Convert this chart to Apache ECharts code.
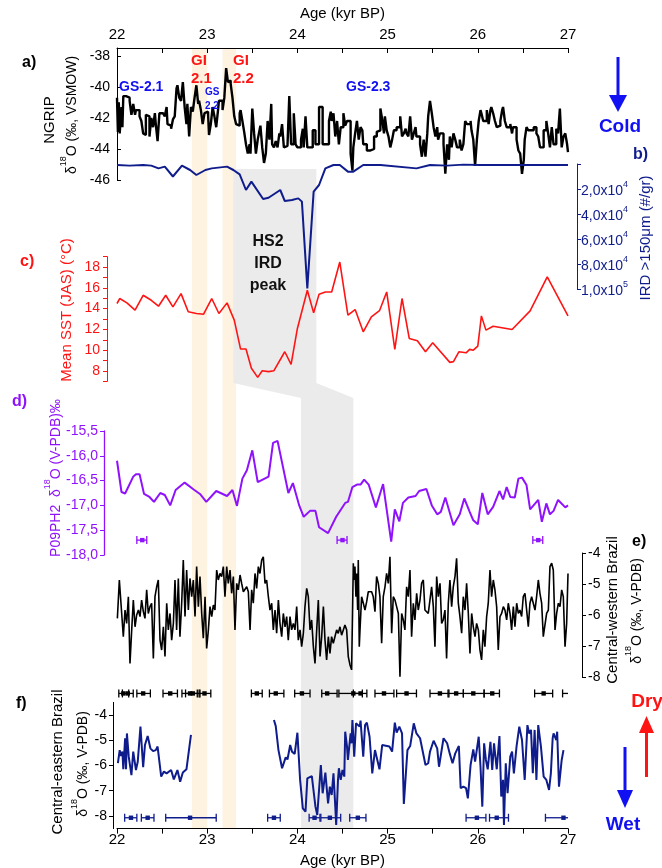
<!DOCTYPE html>
<html><head><meta charset="utf-8">
<script src="https://cdn.jsdelivr.net/npm/echarts@6/dist/echarts.min.js"></script>
<style>html,body{margin:0;padding:0;background:#fff}#c{width:662px;height:868px}</style>
</head><body><div id="c"></div>
<script>
// ---------------- DATA ----------------
const ageTicks = [22, 23, 24, 25, 26, 27];

const ngripAge = [22.00,22.01,22.02,22.03,22.05,22.06,22.07,22.10,22.14,22.16,22.18,22.20,22.21,22.25,22.27,22.29,22.31,22.32,22.34,22.36,22.38,22.40,22.42,22.43,22.45,22.47,22.51,22.53,22.55,22.56,22.58,22.60,22.62,22.64,22.66,22.67,22.69,22.71,22.73,22.75,22.77,22.78,22.80,22.82,22.84,22.86,22.88,22.90,22.91,22.93,22.95,22.97,22.99,23.01,23.02,23.04,23.06,23.08,23.10,23.12,23.13,23.15,23.17,23.19,23.21,23.23,23.24,23.26,23.28,23.30,23.32,23.34,23.36,23.37,23.39,23.41,23.43,23.45,23.47,23.48,23.50,23.52,23.54,23.56,23.58,23.59,23.61,23.63,23.65,23.67,23.69,23.71,23.72,23.74,23.76,23.78,23.80,23.81,23.83,23.85,23.87,23.89,23.91,23.93,23.94,23.96,23.98,24.00,24.02,24.04,24.06,24.07,24.09,24.11,24.13,24.17,24.20,24.24,24.28,24.31,24.35,24.37,24.38,24.40,24.42,24.44,24.46,24.48,24.51,24.53,24.55,24.57,24.59,24.61,24.62,24.64,24.66,24.68,24.70,24.72,24.73,24.77,24.81,24.85,24.88,24.90,24.92,24.94,24.96,24.97,24.99,25.01,25.03,25.05,25.07,25.10,25.14,25.16,25.18,25.20,25.21,25.23,25.25,25.27,25.29,25.31,25.32,25.36,25.38,25.40,25.42,25.44,25.45,25.47,25.49,25.51,25.53,25.55,25.56,25.58,25.62,25.64,25.66,25.68,25.69,25.71,25.73,25.75,25.77,25.80,25.82,25.84,25.86,25.88,25.92,25.93,25.95,25.97,25.99,26.01,26.03,26.04,26.06,26.08,26.10,26.12,26.14,26.15,26.17,26.19,26.21,26.23,26.25,26.27,26.28,26.30,26.32,26.36,26.38,26.39,26.43,26.45,26.47,26.49,26.51,26.52,26.54,26.56,26.58,26.62,26.65,26.67,26.69,26.73,26.76,26.78,26.80,26.82,26.84,26.87,26.89,26.91,26.93,26.95,26.97,26.99,27.00];
const ngripVal = [-40.7,-42.9,-41.0,-43.0,-41.3,-42.6,-40.6,-40.7,-40.9,-41.8,-41.1,-41.8,-41.5,-41.9,-42.2,-43.0,-43.1,-41.8,-41.9,-43.2,-42.0,-42.6,-41.7,-42.4,-43.5,-41.7,-41.6,-41.9,-41.3,-42.4,-42.5,-42.7,-42.1,-41.9,-40.1,-39.9,-40.7,-40.9,-39.7,-41.3,-42.4,-41.1,-43.2,-41.3,-41.6,-40.7,-39.9,-41.1,-40.9,-41.5,-42.4,-41.7,-41.6,-41.8,-43.1,-42.4,-41.3,-41.9,-42.6,-41.5,-40.9,-40.9,-41.5,-40.7,-38.8,-39.7,-39.6,-39.8,-40.7,-41.9,-42.4,-42.5,-41.7,-41.5,-42.2,-42.9,-43.7,-44.3,-43.7,-44.3,-41.4,-43.0,-44.3,-43.4,-42.8,-42.5,-43.9,-44.9,-44.3,-42.2,-43.4,-41.1,-43.7,-43.9,-43.5,-43.9,-43.0,-43.2,-42.4,-43.9,-43.8,-43.7,-40.6,-43.7,-43.7,-41.7,-43.7,-43.9,-43.9,-43.4,-42.7,-43.9,-41.9,-43.9,-43.9,-42.8,-43.7,-41.3,-43.7,-43.7,-42.2,-41.6,-42.2,-41.7,-43.2,-42.2,-43.7,-42.6,-41.7,-42.5,-42.2,-42.2,-44.3,-45.4,-43.9,-43.0,-42.2,-43.4,-42.6,-42.8,-43.7,-44.1,-44.0,-43.2,-42.9,-42.8,-41.4,-42.1,-43.0,-41.9,-42.8,-43.2,-43.9,-43.4,-42.8,-42.6,-41.9,-43.2,-43.0,-42.7,-43.0,-43.2,-41.9,-43.4,-43.0,-42.6,-43.2,-43.7,-44.5,-43.4,-44.5,-43.0,-41.9,-40.9,-41.7,-42.6,-43.2,-42.6,-43.4,-43.0,-43.7,-45.6,-43.7,-44.7,-43.2,-43.9,-43.0,-43.4,-43.9,-43.4,-44.1,-43.7,-42.2,-42.4,-42.2,-42.8,-43.4,-45.1,-43.4,-42.2,-41.5,-41.7,-42.2,-42.2,-41.5,-42.4,-41.5,-41.3,-41.7,-42.2,-42.6,-42.5,-42.2,-41.5,-41.3,-42.2,-42.6,-42.4,-43.0,-42.6,-43.4,-44.1,-44.3,-45.6,-44.7,-43.4,-42.6,-42.8,-42.8,-42.6,-43.0,-43.2,-43.9,-42.8,-42.2,-43.0,-43.9,-42.6,-43.7,-42.7,-43.0,-41.4,-43.9,-43.2,-43.0,-43.7,-44.2];

const irdAge = [22.00,22.14,22.29,22.38,22.46,22.53,22.62,22.72,22.81,22.88,22.98,23.05,23.22,23.29,23.36,23.43,23.49,23.62,23.68,23.81,23.86,23.94,24.01,24.05,24.11,24.18,24.24,24.31,24.40,24.47,24.56,24.62,24.73,24.92,25.32,25.47,25.66,25.84,26.02,27.00];
const irdVal = [800,1300,800,1300,3500,2100,10000,1300,4800,8800,4800,3500,2100,4800,8300,20800,14100,28000,27000,20800,29600,28800,27500,30100,99500,22100,16800,3500,800,800,6100,6100,800,800,3500,800,1300,500,800,800];

const sstAge = [22.00,22.03,22.11,22.20,22.29,22.38,22.46,22.54,22.62,22.71,22.79,22.88,22.96,23.05,23.13,23.22,23.30,23.37,23.43,23.49,23.56,23.61,23.68,23.74,23.86,23.93,24.00,24.11,24.18,24.24,24.31,24.38,24.47,24.56,24.64,24.73,24.82,24.91,24.99,25.08,25.16,25.24,25.33,25.42,25.50,25.69,25.73,25.79,25.87,25.91,25.95,26.00,26.04,26.09,26.17,26.38,26.58,26.77,27.00];
const sstVal = [14.49,14.97,14.55,13.85,15.28,14.8,14.23,15.28,14.17,15.44,13.69,13.53,13.46,14.97,13.53,14.55,12.89,10.11,10.11,8.26,7.39,8.03,7.94,8.03,9.85,8.64,12.09,15.76,13.59,15.38,15.6,15.6,18.48,13.37,13.91,11.77,13.21,13.8,15.6,10.08,14.97,11.13,10.91,9.85,10.72,8.83,8.9,9.85,9.75,10.08,10.0,10.4,13.3,11.93,12.31,11.99,13.78,17.04,13.3];

const p09Age = [22.00,22.05,22.09,22.18,22.21,22.25,22.30,22.36,22.41,22.48,22.53,22.59,22.65,22.75,22.85,22.92,22.99,23.10,23.22,23.28,23.33,23.39,23.44,23.50,23.56,23.68,23.73,23.78,23.90,23.95,24.02,24.07,24.14,24.20,24.24,24.34,24.43,24.53,24.56,24.61,24.66,24.70,24.74,24.79,24.87,24.95,25.04,25.08,25.13,25.17,25.23,25.31,25.35,25.43,25.49,25.55,25.59,25.64,25.73,25.80,25.85,25.91,25.95,26.00,26.05,26.11,26.17,26.24,26.28,26.32,26.36,26.41,26.45,26.49,26.54,26.58,26.67,26.71,26.76,26.80,26.84,26.89,26.97,27.00];
const p09Val = [-16.10,-16.73,-16.76,-16.42,-16.37,-16.37,-16.77,-16.83,-16.93,-16.75,-16.79,-17.00,-16.69,-16.54,-16.68,-16.77,-16.93,-16.71,-16.81,-16.69,-17.01,-16.46,-16.29,-15.89,-16.53,-16.42,-15.74,-15.70,-16.75,-16.55,-17.00,-17.23,-17.11,-17.11,-17.44,-17.56,-17.23,-16.95,-16.93,-16.63,-16.58,-16.58,-16.48,-16.58,-17.04,-16.57,-17.73,-17.08,-17.32,-16.95,-16.84,-16.81,-16.71,-16.67,-17.00,-17.18,-17.13,-16.84,-17.40,-17.18,-16.86,-17.13,-17.30,-17.38,-16.75,-17.18,-17.03,-16.71,-16.88,-16.63,-16.83,-16.84,-16.46,-16.44,-16.59,-17.08,-16.89,-17.33,-16.96,-17.18,-17.11,-16.89,-17.04,-17.00];
const p09ErrC = [22.28, 24.50, 26.67];
const p09ErrLo = [22.22, 24.44, 26.61];
const p09ErrHi = [22.33, 24.55, 26.72];

const cwAge = [22.004,22.026,22.052,22.070,22.089,22.107,22.126,22.144,22.163,22.181,22.200,22.218,22.237,22.255,22.273,22.292,22.310,22.329,22.347,22.366,22.384,22.403,22.421,22.440,22.458,22.477,22.495,22.514,22.532,22.551,22.569,22.588,22.606,22.625,22.643,22.661,22.680,22.698,22.717,22.735,22.754,22.772,22.791,22.809,22.828,22.846,22.865,22.883,22.902,22.920,22.939,22.957,22.976,22.994,23.013,23.031,23.050,23.068,23.086,23.105,23.123,23.142,23.160,23.179,23.197,23.216,23.234,23.253,23.271,23.290,23.308,23.327,23.345,23.364,23.382,23.401,23.419,23.438,23.456,23.475,23.493,23.511,23.530,23.548,23.567,23.585,23.604,23.622,23.641,23.659,23.678,23.696,23.715,23.733,23.752,23.770,23.789,23.807,23.826,23.844,23.863,23.881,23.899,23.918,23.936,23.955,23.973,23.992,24.010,24.029,24.047,24.066,24.084,24.103,24.121,24.140,24.158,24.177,24.195,24.214,24.232,24.251,24.269,24.288,24.306,24.324,24.343,24.361,24.379,24.398,24.416,24.435,24.453,24.472,24.490,24.509,24.527,24.546,24.564,24.583,24.601,24.612,24.620,24.627,24.638,24.649,24.657,24.668,24.675,24.686,24.694,24.712,24.731,24.749,24.768,24.786,24.804,24.823,24.841,24.860,24.878,24.897,24.915,24.934,24.952,24.971,24.989,25.008,25.026,25.045,25.063,25.082,25.100,25.119,25.137,25.156,25.174,25.192,25.211,25.229,25.248,25.266,25.285,25.303,25.322,25.340,25.359,25.377,25.396,25.414,25.433,25.451,25.488,25.507,25.525,25.544,25.562,25.581,25.599,25.617,25.636,25.654,25.673,25.691,25.710,25.728,25.747,25.765,25.784,25.802,25.821,25.839,25.858,25.876,25.895,25.913,25.932,25.950,25.969,25.987,26.006,26.024,26.042,26.061,26.079,26.098,26.116,26.135,26.153,26.172,26.190,26.209,26.227,26.246,26.264,26.283,26.301,26.320,26.338,26.357,26.375,26.394,26.412,26.431,26.449,26.467,26.486,26.504,26.523,26.541,26.560,26.578,26.597,26.615,26.634,26.652,26.671,26.689,26.708,26.726,26.763,26.782,26.800,26.819,26.837,26.856,26.874,26.893,26.911,26.930,26.948,26.967,26.985,27.000];
const cwVal = [-6.11,-4.87,-5.95,-6.70,-5.84,-6.27,-5.41,-7.56,-6.48,-5.52,-6.38,-6.00,-5.84,-6.05,-5.52,-5.89,-6.11,-5.19,-5.95,-5.73,-5.62,-7.40,-5.41,-5.09,-4.87,-6.81,-7.13,-6.38,-7.34,-5.62,-6.48,-5.95,-6.81,-6.27,-4.87,-6.48,-4.82,-6.70,-5.62,-4.23,-6.05,-4.55,-5.84,-4.82,-5.41,-4.87,-6.05,-4.44,-5.73,-4.76,-5.95,-6.75,-5.41,-7.08,-6.48,-5.73,-6.05,-5.68,-5.84,-4.55,-4.87,-4.66,-4.76,-4.44,-5.41,-4.44,-4.98,-4.55,-5.30,-4.76,-6.48,-4.98,-5.19,-4.71,-4.98,-5.25,-5.30,-5.09,-5.25,-6.48,-5.19,-5.62,-4.66,-5.14,-4.44,-4.66,-4.23,-4.12,-4.98,-4.87,-5.41,-5.84,-5.62,-6.48,-5.84,-6.59,-5.52,-6.27,-6.70,-5.95,-6.38,-6.05,-6.81,-6.05,-6.48,-6.27,-6.48,-5.73,-6.81,-6.48,-7.02,-6.59,-5.73,-5.14,-5.41,-6.48,-6.16,-7.02,-7.56,-6.48,-5.52,-7.34,-6.70,-5.73,-6.81,-7.45,-6.70,-7.24,-6.70,-6.91,-6.70,-6.48,-6.59,-6.38,-6.65,-6.48,-6.32,-6.48,-7.34,-7.61,-7.77,-7.83,-4.33,-4.87,-4.44,-5.41,-4.66,-5.84,-4.23,-7.02,-6.48,-5.41,-5.62,-5.84,-5.57,-5.25,-5.30,-5.25,-5.41,-5.89,-4.76,-4.98,-5.41,-6.91,-5.41,-5.09,-4.66,-4.98,-4.12,-6.59,-5.41,-5.52,-5.73,-5.95,-7.99,-5.95,-6.16,-6.48,-5.09,-5.41,-4.55,-6.70,-5.62,-6.16,-5.30,-5.84,-5.52,-4.98,-4.87,-5.84,-5.84,-5.95,-5.09,-5.73,-7.02,-4.76,-5.41,-4.98,-6.27,-6.16,-5.84,-7.40,-5.62,-4.87,-5.73,-5.09,-4.76,-4.17,-5.62,-6.05,-6.59,-5.41,-5.84,-4.98,-5.95,-7.24,-5.95,-6.38,-6.70,-6.27,-6.48,-7.13,-7.45,-6.48,-7.02,-6.05,-5.62,-4.55,-5.41,-4.87,-5.19,-5.73,-7.13,-6.05,-5.95,-5.73,-5.84,-6.16,-5.62,-5.95,-6.48,-5.73,-6.38,-5.62,-5.95,-5.84,-6.05,-5.41,-5.30,-5.25,-6.38,-5.62,-5.41,-5.62,-5.84,-5.41,-4.87,-5.30,-5.62,-6.70,-5.95,-5.84,-4.44,-4.33,-4.55,-6.48,-5.95,-5.62,-5.73,-5.19,-5.41,-7.02,-6.27,-4.66];
const cwErrC = [22.07,22.12,22.29,22.59,22.81,22.84,22.97,23.55,23.76,24.05,24.33,24.62,24.70,24.96,25.21,25.58,25.76,25.95,26.16,26.73,27.05];
const cwErrLo = [22.02,22.06,22.22,22.51,22.72,22.76,22.91,23.49,23.69,23.97,24.27,24.46,24.62,24.86,25.10,25.47,25.67,25.84,26.07,26.63,26.94];
const cwErrHi = [22.13,22.18,22.37,22.67,22.89,22.92,23.04,23.61,23.85,24.14,24.44,24.72,24.77,25.07,25.32,25.68,25.84,26.07,26.24,26.83,27.15];

const ceAge = [22.01,22.03,22.04,22.06,22.07,22.09,22.10,22.11,22.13,22.16,22.18,22.21,22.23,22.26,22.29,22.31,22.34,22.37,22.40,22.43,22.45,22.49,22.52,22.55,22.57,22.60,22.63,22.67,22.70,22.73,22.77,22.79,22.82,23.30,23.74,23.76,23.79,23.83,23.87,23.89,23.92,23.94,23.97,24.00,24.03,24.06,24.09,24.11,24.16,24.18,24.20,24.22,24.24,24.26,24.28,24.31,24.34,24.36,24.38,24.40,24.42,24.43,24.45,24.46,24.48,24.50,24.52,24.53,24.55,24.56,24.59,24.60,24.61,24.63,24.65,24.67,24.69,24.70,24.73,24.75,24.77,24.80,24.83,24.86,24.91,24.94,25.02,25.05,25.08,25.10,25.13,25.16,25.18,25.22,25.25,25.29,25.32,25.34,25.36,25.42,25.45,25.47,25.51,25.55,25.57,25.62,25.66,25.69,25.72,25.75,25.79,25.81,25.84,25.87,25.89,25.92,25.95,25.97,26.01,26.03,26.05,26.07,26.09,26.11,26.14,26.16,26.18,26.21,26.24,26.26,26.28,26.29,26.31,26.33,26.36,26.38,26.40,26.43,26.46,26.49,26.52,26.55,26.57,26.59,26.61,26.63,26.65,26.67,26.70,26.73,26.76,26.79,26.81,26.83,26.84,26.87,26.88,26.90,26.93,26.95];
const ceVal = [-5.91,-5.39,-5.62,-5.45,-6.15,-4.92,-6.15,-4.73,-5.65,-6.38,-5.45,-6.18,-5.85,-4.46,-6.07,-5.19,-4.83,-5.32,-5.43,-5.39,-5.25,-6.44,-6.24,-6.31,-6.28,-6.18,-6.55,-6.18,-6.64,-6.28,-6.15,-6.11,-4.79,null,-4.20,-4.44,-5.39,-6.11,-5.68,-5.76,-5.19,-5.45,-5.54,-4.70,-6.57,-7.70,-7.83,-6.51,-6.42,-6.42,-7.63,-7.96,-6.97,-5.98,-7.10,-6.28,-7.50,-6.84,-7.17,-6.31,-7.63,-8.36,-6.57,-6.11,-6.57,-6.18,-6.44,-4.66,-5.25,-5.78,-4.73,-5.12,-4.20,-5.65,-4.33,-4.26,-4.46,-4.22,-5.65,-4.40,-4.30,-4.86,-6.31,-5.39,-6.15,-5.19,-5.25,-5.45,-4.30,-4.70,-4.46,-4.73,-7.52,-5.39,-5.23,-4.33,-4.73,-4.66,-4.92,-5.98,-5.91,-5.45,-5.02,-5.32,-6.05,-4.92,-5.12,-5.54,-5.91,-5.52,-5.23,-6.90,-6.84,-6.90,-7.30,-5.98,-5.36,-5.85,-4.86,-6.05,-7.63,-5.12,-5.78,-6.15,-5.06,-6.18,-5.12,-6.15,-4.83,-7.23,-6.57,-8.36,-5.91,-7.10,-5.65,-5.45,-6.31,-5.23,-4.46,-4.99,-6.57,-4.40,-4.73,-4.59,-6.31,-4.59,-6.57,-4.40,-5.25,-6.44,-6.57,-6.97,-6.31,-4.92,-4.73,-4.99,-4.66,-6.84,-5.78,-5.39];
const ceErrC = [22.155,22.34,22.81,23.74,24.19,24.36,24.67,25.99,26.21,26.95];
const ceErrLo = [22.085,22.27,22.54,23.67,24.13,24.26,24.58,25.87,26.13,26.75];
const ceErrHi = [22.22,22.41,23.10,23.81,24.25,24.48,24.76,26.09,26.34,27.00];

const giBandLo = [22.83, 23.17];
const giBandHi = [23.00, 23.32];
const hs2UpperAges = [23.29, 24.21];
const hs2LowerAges = [24.04, 24.62];

// ---------------- STYLE / LAYOUT ----------------
const FONT = '"Liberation Sans", Arial, Helvetica, sans-serif';
const NAVY = '#0f1c8c', RED = '#ff1414', PURPLE = '#9012fc', BLUE = '#1010f2', CREAM = '#fdf3e0', GREY = '#ebebeb';
const L = 117, W = 451;
const PAGE_TOP = 48, PAGE_BOT = 828, HS2_TOP = 169, HS2_MID1 = 383, HS2_MID2 = 398;

const pairs = (xs, ys) => xs.map((x, i) => [x, ys[i] === null ? '-' : ys[i]]);

function hiddenX(gi) { return {type:'value', gridIndex:gi, min:22, max:27, interval:1, show:false}; }

function errSeries(xi, yi, c, lo, hi, yv, color) {
  return {
    type:'custom', xAxisIndex:xi, yAxisIndex:yi, clip:false, z:6, silent:true,
    data: c.map((v, i) => [v, lo[i], hi[i], yv]),
    renderItem(params, api) {
      const cc = api.value(0), l = api.value(1), h = api.value(2), y = api.value(3);
      const a = api.coord([Math.max(l, 22), y]), b = api.coord([Math.min(h, 27), y]), m = api.coord([cc, y]);
      const st = {stroke: color, lineWidth: 1.3};
      const ch = [{type:'line', shape:{x1:a[0], y1:a[1], x2:b[0], y2:b[1]}, style: st}];
      if (l >= 22) ch.push({type:'line', shape:{x1:a[0], y1:a[1]-4, x2:a[0], y2:a[1]+4}, style: st});
      if (h < 26.99) ch.push({type:'line', shape:{x1:b[0], y1:b[1]-4, x2:b[0], y2:b[1]+4}, style: st});
      if (cc >= 22 && cc <= 27) ch.push({type:'rect', shape:{x:m[0]-2.2, y:m[1]-2.2, width:4.4, height:4.4}, style:{fill: color}});
      return {type:'group', children: ch};
    }
  };
}

function T(x, y, text, size, color, weight, rot, align, rich) {
  const st = {text, fontSize:size, fontFamily:FONT, fontWeight:weight || 'normal', fill:color, align:align || 'center', verticalAlign:'middle'};
  if (rich) st.rich = rich;
  return {type:'text', x, y, rotation: rot || 0, z:100, silent:true, style: st};
}
function dRich(size, color) {
  return {a:{fontSize:size, fontFamily:FONT, fill:color, color:color, lineHeight:size+6, verticalAlign:'bottom'},
          s:{fontSize:Math.round(size*0.62), fontFamily:FONT, fill:color, color:color, lineHeight:size+6, verticalAlign:'top'}};
}
const R90 = Math.PI / 2;

const yLabel = (color, extra) => Object.assign({fontSize:14, color, fontFamily:FONT}, extra || {});
const comma = v => v.toFixed(1).replace('.', ',');

const option = {
  animation: false,
  backgroundColor: '#fff',
  grid: [
    {left:L, width:W, top:48, height:132},
    {left:L, width:W, top:164, height:125},
    {left:L, width:W, top:256.6, height:124.8},
    {left:L, width:W, top:431, height:124},
    {left:L, width:W, top:553, height:124},
    {left:L, width:W, top:702.4, height:126.2},
    {left:L, width:W, top:PAGE_TOP, height:PAGE_BOT - PAGE_TOP}
  ].map(g => Object.assign(g, {containLabel:false, outerBoundsMode:'none'})),
  xAxis: [
    {type:'value', gridIndex:0, position:'top', min:22, max:27, interval:0.5,
     name:'Age (kyr BP)', nameLocation:'middle', nameGap:27,
     nameTextStyle:{fontSize:15, color:'#000', fontFamily:FONT},
     axisLine:{show:true, lineStyle:{color:'#000', width:1}},
     axisTick:{show:true, inside:true, length:5, lineStyle:{color:'#000'}},
     axisLabel:{fontSize:15, color:'#000', fontFamily:FONT, margin:6, formatter: v => ageTicks.includes(v) ? String(v) : ''},
     splitLine:{show:false}},
    hiddenX(1), hiddenX(2), hiddenX(3), hiddenX(4),
    {type:'value', gridIndex:5, position:'bottom', min:22, max:27, interval:0.5,
     name:'Age (kyr BP)', nameLocation:'middle', nameGap:25,
     nameTextStyle:{fontSize:15, color:'#000', fontFamily:FONT},
     axisLine:{show:true, lineStyle:{color:'#000', width:1.2}},
     axisTick:{show:true, inside:false, length:5, lineStyle:{color:'#000'}},
     axisLabel:{fontSize:15, color:'#000', fontFamily:FONT, margin:4, formatter: v => ageTicks.includes(v) ? String(v) : ''},
     splitLine:{show:false}},
    hiddenX(6)
  ],
  yAxis: [
    {type:'value', gridIndex:0, min:-46, max:-37.5, interval:2, position:'left',
     axisLine:{show:true, lineStyle:{color:'#000'}}, axisTick:{show:true, inside:true, length:4, lineStyle:{color:'#000'}},
     axisLabel: yLabel('#000', {margin:7, showMaxLabel:false}), splitLine:{show:false}},
    {type:'value', gridIndex:1, min:0, max:100000, interval:20000, inverse:true, position:'right', offset:9,
     axisLine:{show:true, lineStyle:{color:NAVY}}, axisTick:{show:true, inside:false, length:4, lineStyle:{color:NAVY}},
     axisLabel:{margin:4, color:NAVY, fontFamily:FONT, fontSize:14,
       formatter: v => v === 0 ? '' : (v >= 100000 ? '{n|1,0x10}{s|5}' : '{n|' + comma(v / 10000) + 'x10}{s|4}'),
       rich:{n:{fontSize:14, color:NAVY, fontFamily:FONT, lineHeight:18, verticalAlign:'bottom'},
             s:{fontSize:9, color:NAVY, fontFamily:FONT, lineHeight:18, verticalAlign:'top'}}},
     splitLine:{show:false}},
    {type:'value', gridIndex:2, min:7, max:19, interval:1, position:'left', offset:10,
     axisLine:{show:true, lineStyle:{color:RED}}, axisTick:{show:true, inside:false, length:4, lineStyle:{color:RED}},
     axisLabel: yLabel(RED, {margin:7, formatter: v => (v % 2 === 0 ? String(v) : '')}), splitLine:{show:false}},
    {type:'value', gridIndex:3, min:-18, max:-15.5, interval:0.5, position:'left', offset:13,
     axisLine:{show:true, lineStyle:{color:PURPLE, width:1.3}}, axisTick:{show:true, inside:false, length:4, lineStyle:{color:PURPLE}},
     axisLabel: yLabel(PURPLE, {margin:6, formatter: comma}), splitLine:{show:false}},
    {type:'value', gridIndex:4, min:-8, max:-4, interval:1, position:'right', offset:14,
     axisLine:{show:true, lineStyle:{color:'#000'}}, axisTick:{show:true, inside:false, length:4, lineStyle:{color:'#000'}},
     axisLabel: yLabel('#000', {margin:6}), splitLine:{show:false}},
    {type:'value', gridIndex:5, min:-8.5, max:-3.5, splitNumber:5, position:'left', offset:4,
     axisLine:{show:true, lineStyle:{color:'#000'}}, axisTick:{show:true, inside:false, length:4, lineStyle:{color:'#000'}},
     axisLabel: yLabel('#000', {margin:6, showMinLabel:false, showMaxLabel:false}), splitLine:{show:false}},
    {type:'value', gridIndex:6, min:PAGE_TOP, max:PAGE_BOT, inverse:true, show:false}
  ],
  series: [
    {type:'custom', xAxisIndex:6, yAxisIndex:6, z:0, silent:true, clip:false,
     data: giBandLo.map((v, i) => [v, giBandHi[i]]),
     renderItem(params, api) {
       const a = api.coord([api.value(0), PAGE_TOP]), b = api.coord([api.value(1), PAGE_BOT]);
       return {type:'rect', shape:{x:a[0], y:a[1], width:b[0]-a[0], height:b[1]-a[1]}, style:{fill:CREAM}};
     }},
    {type:'custom', xAxisIndex:6, yAxisIndex:6, z:0, silent:true, clip:false,
     data: [[hs2UpperAges[0], hs2UpperAges[1], hs2LowerAges[0], hs2LowerAges[1]]],
     renderItem(params, api) {
       const u0 = api.value(0), u1 = api.value(1), l0 = api.value(2), l1 = api.value(3);
       const pts = [[u0, HS2_TOP], [u1, HS2_TOP], [u1, HS2_MID1], [l1, HS2_MID2], [l1, PAGE_BOT], [l0, PAGE_BOT], [l0, HS2_MID2], [u0, HS2_MID1]].map(p => api.coord(p));
       return {type:'polygon', shape:{points:pts}, style:{fill:GREY}};
     }},
    {type:'line', xAxisIndex:0, yAxisIndex:0, data:pairs(ngripAge, ngripVal), step:'end', symbol:'none', z:3,
     lineStyle:{color:'#000', width:2.4}},
    {type:'line', xAxisIndex:1, yAxisIndex:1, data:pairs(irdAge, irdVal), symbol:'none', z:4,
     lineStyle:{color:NAVY, width:2}},
    {type:'line', xAxisIndex:2, yAxisIndex:2, data:pairs(sstAge, sstVal), symbol:'none', z:3,
     lineStyle:{color:RED, width:1.6}},
    {type:'line', xAxisIndex:3, yAxisIndex:3, data:pairs(p09Age, p09Val), symbol:'none', z:3,
     lineStyle:{color:PURPLE, width:2}},
    {type:'line', xAxisIndex:4, yAxisIndex:4, data:pairs(cwAge, cwVal), symbol:'none', z:3,
     lineStyle:{color:'#000', width:1.6}},
    {type:'line', xAxisIndex:5, yAxisIndex:5, data:pairs(ceAge, ceVal), symbol:'none', z:3, connectNulls:false,
     lineStyle:{color:NAVY, width:2}},
    errSeries(3, 3, p09ErrC, p09ErrLo, p09ErrHi, -17.7, PURPLE),
    errSeries(4, 4, cwErrC, cwErrLo, cwErrHi, -8.53, '#000'),
    errSeries(5, 5, ceErrC, ceErrLo, ceErrHi, -8.07, NAVY)
  ],
  graphic: [
    T(22, 63, 'a)', 16, '#000', 'bold', 0, 'left'),
    T(50, 120, 'NGRIP', 15, '#000', 'normal', R90),
    T(69, 115, '{a|δ}{s|18}{a|O (‰, VSMOW)}', 14, '#000', 'normal', R90, 'center', dRich(14, '#000')),
    T(119, 87, 'GS-2.1', 14, BLUE, 'bold', 0, 'left'),
    T(191, 61, 'GI', 15, RED, 'bold', 0, 'left'),
    T(191, 79, '2.1', 15, RED, 'bold', 0, 'left'),
    T(205, 92, 'GS', 10, BLUE, 'bold', 0, 'left'),
    T(205, 106, '2.2', 10, BLUE, 'bold', 0, 'left'),
    T(233, 61, 'GI', 15, RED, 'bold', 0, 'left'),
    T(233, 79, '2.2', 15, RED, 'bold', 0, 'left'),
    T(346, 87, 'GS-2.3', 14, BLUE, 'bold', 0, 'left'),
    T(620, 127, 'Cold', 19, BLUE, 'bold'),
    T(633, 155, 'b)', 16, NAVY, 'bold', 0, 'left'),
    T(646, 238, 'IRD >150μm (#/gr)', 15, NAVY, 'normal', R90),
    T(268, 242, 'HS2', 16, '#111', 'bold'),
    T(268, 264, 'IRD', 16, '#111', 'bold'),
    T(268, 286, 'peak', 16, '#111', 'bold'),
    T(20, 262, 'c)', 16, RED, 'bold', 0, 'left'),
    T(67, 310, 'Mean SST (JAS) (°C)', 15, RED, 'normal', R90),
    T(12, 402, 'd)', 16, PURPLE, 'bold', 0, 'left'),
    T(53, 478, '{a|P09PH2  δ}{s|18}{a|O (V-PDB)‰}', 14, PURPLE, 'normal', R90, 'center', dRich(14, PURPLE)),
    T(632, 542, 'e)', 16, '#000', 'bold', 0, 'left'),
    T(613, 610, 'Central-western Brazil', 15, '#000', 'normal', R90),
    T(634, 611, '{a|δ}{s|18}{a|O (‰, V-PDB)}', 14, '#000', 'normal', R90, 'center', dRich(14, '#000')),
    T(16, 704, 'f)', 16, '#000', 'bold', 0, 'left'),
    T(58, 762, 'Central-eastern Brazil', 15, '#000', 'normal', R90),
    T(80, 764, '{a|δ}{s|18}{a|O (‰, V-PDB)}', 14, '#000', 'normal', R90, 'center', dRich(14, '#000')),
    T(647, 702, 'Dry', 19, RED, 'bold'),
    T(623, 825, 'Wet', 19, BLUE, 'bold'),
    {type:'line', z:100, silent:true, shape:{x1:618, y1:57, x2:618, y2:97}, style:{stroke:BLUE, lineWidth:3}},
    {type:'polygon', z:100, silent:true, shape:{points:[[609, 95], [627, 95], [618, 112]]}, style:{fill:BLUE}},
    {type:'line', z:100, silent:true, shape:{x1:646.5, y1:731, x2:646.5, y2:777}, style:{stroke:RED, lineWidth:3}},
    {type:'polygon', z:100, silent:true, shape:{points:[[639, 733], [654, 733], [646.5, 716]]}, style:{fill:RED}},
    {type:'line', z:100, silent:true, shape:{x1:625, y1:747, x2:625, y2:792}, style:{stroke:BLUE, lineWidth:3}},
    {type:'polygon', z:100, silent:true, shape:{points:[[617, 790], [633, 790], [625, 808]]}, style:{fill:BLUE}}
  ]
};

const chart = echarts.init(document.getElementById('c'), null, {renderer:'canvas', width:662, height:868});
chart.setOption(option);
</script>
</body></html>
